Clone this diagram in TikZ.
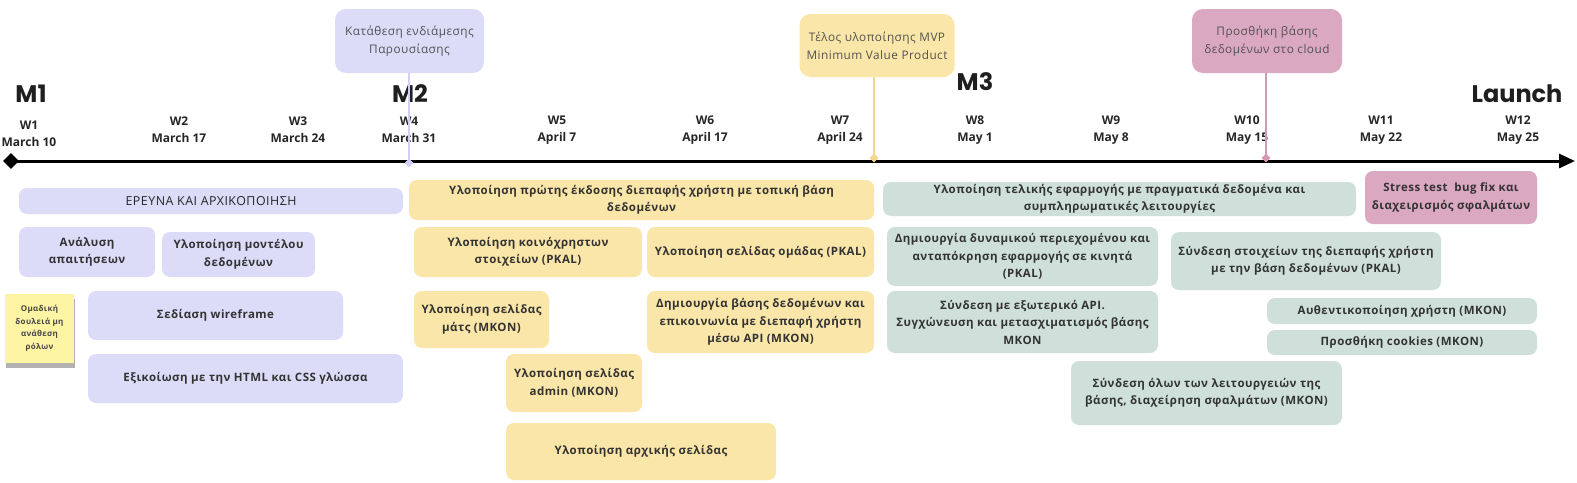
\documentclass[tikz,border=0pt]{standalone}
\usepackage{fontspec}
\setmainfont{Open Sans}
\newfontfamily\boxfont[LetterSpace=4]{Open Sans}
\newfontfamily\popfont{Poppins}
\usetikzlibrary{arrows.meta,shapes.geometric,shadows}
\definecolor{lav}{HTML}{DCDBF8}
\definecolor{lavline}{HTML}{D0CFF4}
\definecolor{yel}{HTML}{FAE6A8}
\definecolor{yelline}{HTML}{F4D88C}
\definecolor{grn}{HTML}{CFE0DA}
\definecolor{pnk}{HTML}{DBA8C2}
\definecolor{pnkline}{HTML}{D398B5}
\definecolor{sticky}{HTML}{FDF5A3}
\definecolor{txt}{HTML}{333333}
\tikzset{
  task/.style={rounded corners=8pt, inner sep=0pt, text=txt, align=center,
    font=\boxfont\bfseries\fontsize{11.5}{17.5}\selectfont},
  callout/.style={rounded corners=11pt, inner sep=0pt, text=txt!85, align=center,
    font=\boxfont\fontsize{11.8}{18}\selectfont},
  mrk/.style={diamond, inner sep=0pt, minimum size=9pt},
  wk/.style={align=center, inner sep=0pt, text=black!85,
    font=\bfseries\fontsize{12}{17}\selectfont},
  ms/.style={inner sep=0pt, text=black!88, font=\popfont\bfseries\fontsize{24}{24}\selectfont},
  conn/.style={line width=1.2pt},
}
\begin{document}
\begin{tikzpicture}[x=1pt,y=-1pt]
\useasboundingbox[fill=white] (0,0) rectangle (1577,482);

% milestones
\node[ms] (M1) at (31,94) {M1};
\node[ms] (M2) at (410,94) {M2};
\node[ms] (M3) at (975,82) {M3};
\node[ms] (ML) at (1517,94) {Launch};

% weeks
\node[wk] (w1) at (29,134) {W1\\March 10};
\node[wk] (w2) at (179,130) {W2\\March 17};
\node[wk] (w3) at (298,130) {W3\\March 24};
\node[wk] (w4) at (409,130) {W4\\March 31};
\node[wk] (w5) at (557,130) {W5\\April 7};
\node[wk] (w6) at (705,130) {W6\\April 17};
\node[wk] (w7) at (840,130) {W7\\April 24};
\node[wk] (w8) at (975,130) {W8\\May 1};
\node[wk] (w9) at (1111,130) {W9\\May 8};
\node[wk] (w10) at (1247,130) {W10\\May 15};
\node[wk] (w11) at (1381,130) {W11\\May 22};
\node[wk] (w12) at (1518,130) {W12\\May 25};

% timeline
\node[diamond, fill=black, minimum size=16pt, inner sep=0pt] (start) at (11,161) {};
\coordinate (end) at (1575,161);
\draw[line width=3pt, -{Triangle[length=16pt,width=14pt]}] (start.center) -- (end);

% callouts
\node[callout, fill=lav, minimum width=149pt, minimum height=64pt] (c1) at (409.5,41) {Κατάθεση ενδιάμεσης\\Παρουσίασης};
\node[callout, fill=yel, minimum width=155pt, minimum height=63pt] (c2) at (877,45.5) {Τέλος υλοποίησης MVP\\Minimum Value Product};
\node[callout, fill=pnk, minimum width=150pt, minimum height=64pt] (c3) at (1267,41) {Προσθήκη βάσης\\δεδομένων στο cloud};
\node[mrk, fill=lavline] (m1) at (409,163) {};
\node[mrk, fill=yelline] (m2) at (874,158) {};
\node[mrk, fill=pnkline] (m3) at (1266,158) {};
\draw[conn, lavline] (m1.center) -- (m1.center |- c1.south);
\draw[conn, yelline] (m2.center) -- (m2.center |- c2.south);
\draw[conn, pnkline] (m3.center) -- (m3.center |- c3.south);

% research phase (lavender)
\node[task, fill=lav, minimum width=384pt, minimum height=26pt, text=black!85, font=\boxfont\fontsize{12.4}{17}\selectfont] (l1) at (211,201) {ΕΡΕΥΝΑ ΚΑΙ ΑΡΧΙΚΟΠΟΙΗΣΗ};
\node[task, fill=lav, minimum width=136pt, minimum height=50pt] (l2) at (87,252) {Ανάλυση\\απαιτήσεων};
\node[task, fill=lav, minimum width=153pt, minimum height=45pt] (l3) at (238.5,254.5) {Υλοποίηση μοντέλου\\δεδομένων};
\node[task, fill=lav, minimum width=255pt, minimum height=49pt] (l4) at (215.5,315.5) {Σεδίαση wireframe};
\node[task, fill=lav, minimum width=315pt, minimum height=49pt] (l5) at (245.5,378.5) {Εξικοίωση με την HTML και CSS γλώσσα};
\node[fill=sticky, inner sep=0pt, minimum width=69pt, minimum height=69pt, align=center, text=txt!90,
  font=\boxfont\bfseries\fontsize{8}{12.5}\selectfont,
  drop shadow={shadow xshift=1pt, shadow yshift=-5pt, opacity=0.3, fill=black}] (st) at (39.5,328.5) {Ομαδική\\δουλειά μη\\ανάθεση\\ρόλων};

% MVP phase (yellow)
\node[task, fill=yel, minimum width=465pt, minimum height=40pt] (y1) at (641.5,200) {Υλοποίηση πρώτης έκδοσης διεπαφής χρήστη με τοπική βάση\\δεδομένων};
\node[task, fill=yel, minimum width=228pt, minimum height=50pt] (y2) at (528,252) {Υλοποίηση κοινόχρηστων\\στοιχείων (PKAL)};
\node[task, fill=yel, minimum width=227pt, minimum height=50pt] (y3) at (760.5,252) {Υλοποίηση σελίδας ομάδας (PKAL)};
\node[task, fill=yel, minimum width=135pt, minimum height=57pt] (y4) at (481.5,319.5) {Υλοποίηση σελίδας\\μάτς (MKON)};
\node[task, fill=yel, minimum width=227pt, minimum height=62pt] (y5) at (760.5,322) {Δημιουργία βάσης δεδομένων και\\επικοινωνία με διεπαφή χρήστη\\μέσω API (MKON)};
\node[task, fill=yel, minimum width=136pt, minimum height=58pt] (y6) at (574,383) {Υλοποίηση σελίδας\\admin (MKON)};
\node[task, fill=yel, minimum width=270pt, minimum height=57pt] (y7) at (641,451.5) {Υλοποίηση αρχικής σελίδας};

% final phase (green)
\node[task, fill=grn, minimum width=473pt, minimum height=34pt] (g1) at (1119.5,199) {Υλοποίηση τελικής εφαρμογής με πραγματικά δεδομένα και\\συμπληρωματικές λειτουργίες};
\node[task, fill=grn, minimum width=271pt, minimum height=59pt] (g2) at (1022.5,256.5) {Δημιουργία δυναμικού περιεχομένου και\\ανταπόκρηση εφαρμογής σε κινητά\\(PKAL)};
\node[task, fill=grn, minimum width=271pt, minimum height=62pt] (g3) at (1022.5,322) {Σύνδεση με εξωτερικό API.\\Συγχώνευση και μετασχιματισμός βάσης\\MKON};
\node[task, fill=grn, minimum width=270pt, minimum height=58pt] (g4) at (1306,261) {Σύνδεση στοιχείων της διεπαφής χρήστη\\με την βάση δεδομένων (PKAL)};
\node[task, fill=grn, minimum width=270pt, minimum height=26pt] (g5) at (1402,311) {Αυθεντικοποίηση χρήστη (MKON)};
\node[task, fill=grn, minimum width=270pt, minimum height=25pt] (g6) at (1402,342.5) {Προσθήκη cookies (MKON)};
\node[task, fill=grn, minimum width=271pt, minimum height=64pt] (g7) at (1206.5,393) {Σύνδεση όλων των λειτουργειών της\\βάσης, διαχείρηση σφαλμάτων (MKON)};

% launch phase (pink)
\node[task, fill=pnk, minimum width=172pt, minimum height=53pt] (p1) at (1451,197.5) {Stress test\ \ bug fix και\\διαχειρισμός σφαλμάτων};
\end{tikzpicture}
\end{document}
